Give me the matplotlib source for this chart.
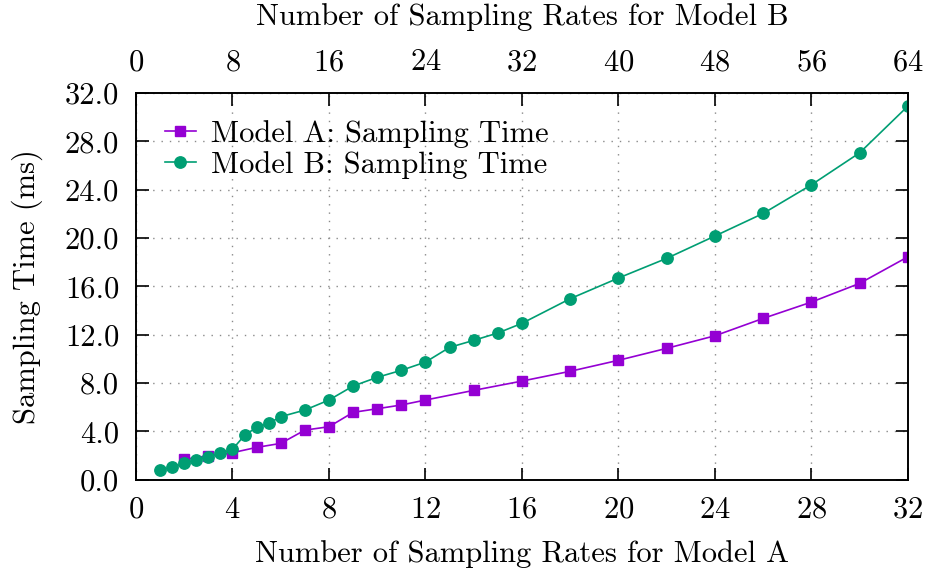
import matplotlib
matplotlib.use('Agg')
import matplotlib.pyplot as plt

plt.rcParams['font.family'] = ['cmr10', 'DejaVu Serif']
plt.rcParams['mathtext.fontset'] = 'cm'
plt.rcParams['axes.formatter.use_mathtext'] = True

# Model A: plotted against the bottom axis
rates_a = [2, 3, 4, 5, 6, 7, 8, 9, 10, 11, 12, 14, 16, 18, 20, 22, 24, 26, 28, 30, 32]
time_a = [1.68, 1.98, 2.23, 2.67, 3.0, 4.1, 4.38, 5.57, 5.87, 6.18, 6.59, 7.39, 8.16,
          8.97, 9.88, 10.87, 11.91, 13.35, 14.70, 16.25, 18.45]

# Model B: plotted against the top axis
rates_b = [2, 3, 4, 5, 6, 7, 8, 9, 10, 11, 12, 14, 16, 18, 20, 22, 24, 26, 28, 30, 32,
           36, 40, 44, 48, 52, 56, 60, 64]
time_b = [0.79, 1.02, 1.35, 1.65, 1.90, 2.18, 2.51, 3.67, 4.33, 4.66, 5.21, 5.76, 6.59,
          7.75, 8.47, 9.05, 9.73, 10.95, 11.53, 12.14, 12.94, 14.98, 16.69, 18.32,
          20.17, 22.04, 24.41, 27.06, 30.93]

bottom_ticks = [0, 4, 8, 12, 16, 20, 24, 28, 32]
top_ticks = [0, 8, 16, 24, 32, 40, 48, 56, 64]
y_ticks = [0, 4, 8, 12, 16, 20, 24, 28, 32]

PURPLE = '#9400D3'
GREEN = '#009E73'
FS = 22

fig = plt.figure(figsize=(9.27, 5.71), dpi=100)
ax = fig.add_axes([0.1467, 0.160, 0.8328, 0.677])
ax2 = ax.twiny()

la, = ax.plot(rates_a, time_a, color=PURPLE, marker='s', markersize=6.8, linewidth=1.2,
              label='Model A: Sampling Time')
lb, = ax2.plot(rates_b, time_b, color=GREEN, marker='o', markersize=8.2, linewidth=1.2,
               label='Model B: Sampling Time')

ax.set_xlim(0, 32)
ax2.set_xlim(0, 64)
ax.set_ylim(0, 32)
ax.set_xticks(bottom_ticks)
ax2.set_xticks(top_ticks)
ax.set_yticks(y_ticks)
ax.set_yticklabels(['%.1f' % v for v in y_ticks])

ax.grid(True, linestyle=(0, (1, 5)), color='#8a8a8a', linewidth=1.0)

for a in (ax, ax2):
    a.tick_params(direction='in', length=9, width=1.2, labelsize=FS, pad=12)
    for s in a.spines.values():
        s.set_linewidth(1.2)
ax.tick_params(right=True)

ax.set_xlabel('Number of Sampling Rates for Model A', fontsize=FS, labelpad=12)
ax2.set_xlabel('Number of Sampling Rates for Model B', fontsize=FS, labelpad=17)
ax.set_ylabel('Sampling Time (ms)', fontsize=FS, labelpad=16)

leg = ax2.legend(handles=[la, lb], loc='upper left', frameon=False, fontsize=FS,
                 handlelength=1.0, handletextpad=0.5, labelspacing=0.1,
                 bbox_to_anchor=(0.022, 0.962), borderaxespad=0)

fig.savefig('out.png', dpi=100)
